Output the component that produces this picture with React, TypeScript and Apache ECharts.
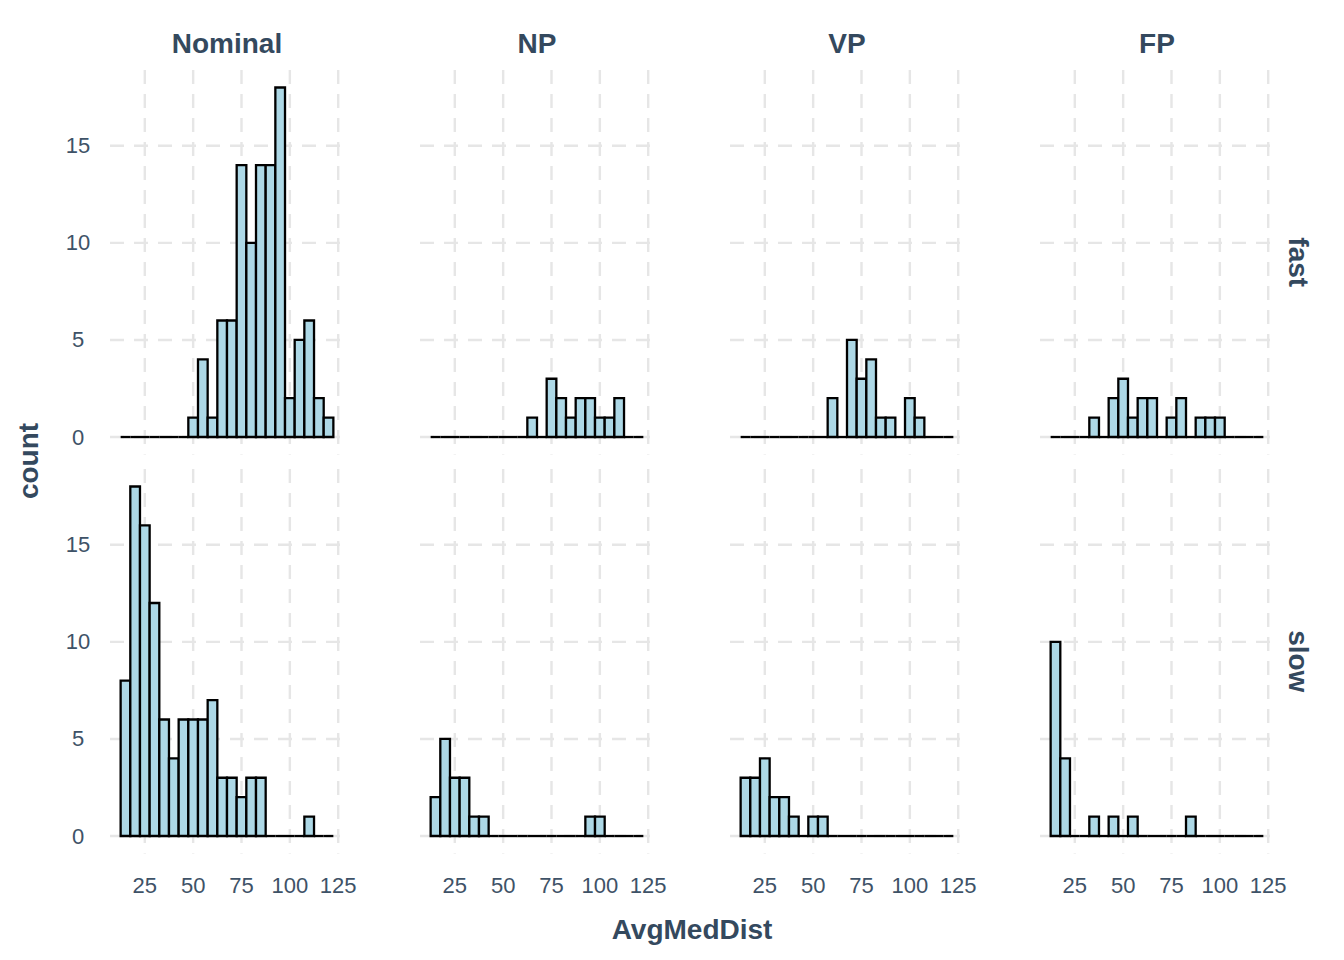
import React, { useEffect, useRef } from "react";
import * as echarts from "echarts";

// ---- data ----
const columns = ["Nominal", "NP", "VP", "FP"];
const rows = ["fast", "slow"];
const binCenters = [15, 20, 25, 30, 35, 40, 45, 50, 55, 60, 65, 70, 75, 80, 85, 90, 95, 100, 105, 110, 115, 120];
const binWidth = 5;
const xTicks = [25, 50, 75, 100, 125];
const yTicks = [0, 5, 10, 15];

const nominalFast = [0, 0, 0, 0, 0, 0, 0, 1, 4, 1, 6, 6, 14, 10, 14, 14, 18, 2, 5, 6, 2, 1];
const npFast = [0, 0, 0, 0, 0, 0, 0, 0, 0, 0, 1, 0, 3, 2, 1, 2, 2, 1, 1, 2, 0, 0];
const vpFast = [0, 0, 0, 0, 0, 0, 0, 0, 0, 2, 0, 5, 3, 4, 1, 1, 0, 2, 1, 0, 0, 0];
const fpFast = [0, 0, 0, 0, 1, 0, 2, 3, 1, 2, 2, 0, 1, 2, 0, 1, 1, 1, 0, 0, 0, 0];

const nominalSlow = [8, 18, 16, 12, 6, 4, 6, 6, 6, 7, 3, 3, 2, 3, 3, 0, 0, 0, 0, 1, 0, 0];
const npSlow = [2, 5, 3, 3, 1, 1, 0, 0, 0, 0, 0, 0, 0, 0, 0, 0, 1, 1, 0, 0, 0, 0];
const vpSlow = [3, 3, 4, 2, 2, 1, 0, 1, 1, 0, 0, 0, 0, 0, 0, 0, 0, 0, 0, 0, 0, 0];
const fpSlow = [10, 4, 0, 0, 1, 0, 1, 0, 1, 0, 0, 0, 0, 0, 1, 0, 0, 0, 0, 0, 0, 0];

const panelCounts = [
  [nominalFast, npFast, vpFast, fpFast],
  [nominalSlow, npSlow, vpSlow, fpSlow],
];

const xMin = 7;
const xMax = 128;
const yMin = -0.9;
const yMax = 18.9;

// ---- layout / style ----
const colLefts = [110, 420, 730, 1040];
const panelWidth = 234;
const rowTops = [70, 469];
const panelHeight = 384.5;
const FONT = "'Liberation Sans', Arial, Helvetica, sans-serif";
const TITLE_COLOR = "#34495E";
const TICK_COLOR = "#3E5267";
const GRID_COLOR = "#E6E6E6";
const GRID_DASH = [14, 10];

export default function App() {
  const ref = useRef<HTMLDivElement>(null);

  useEffect(() => {
    document.body.style.margin = "0";
    if (!ref.current) return;
    const chart = echarts.init(ref.current, undefined, { renderer: "svg" });

    const grid: any[] = [];
    const xAxis: any[] = [];
    const yAxis: any[] = [];
    const series: any[] = [];

    rows.forEach((_r, ri) => {
      columns.forEach((_c, ci) => {
        const idx = ri * columns.length + ci;
        grid.push({
          left: colLefts[ci],
          top: rowTops[ri],
          width: panelWidth,
          height: panelHeight,
          containLabel: false,
        });
        xAxis.push({
          type: "value",
          gridIndex: idx,
          min: xMin,
          max: xMax,
          axisLine: { show: false },
          axisTick: { show: false },
          splitLine: { show: false },
          axisLabel: {
            show: ri === rows.length - 1,
            customValues: xTicks,
            fontSize: 22,
            fontFamily: FONT,
            color: TICK_COLOR,
            margin: 21,
          },
        });
        yAxis.push({
          type: "value",
          gridIndex: idx,
          min: yMin,
          max: yMax,
          axisLine: { show: false },
          axisTick: { show: false },
          splitLine: { show: false },
          axisLabel: {
            show: ci === 0,
            customValues: yTicks,
            fontSize: 22,
            fontFamily: FONT,
            color: TICK_COLOR,
            align: "center",
            margin: 32,
          },
        });

        // vertical grid lines
        series.push({
          type: "custom",
          xAxisIndex: idx,
          yAxisIndex: idx,
          silent: true,
          z: 1,
          data: xTicks.map((v) => [v, 0]),
          renderItem: (params: any, api: any) => {
            const cs = params.coordSys;
            const x = api.coord([api.value(0), 0])[0];
            return {
              type: "line",
              shape: { x1: x, y1: cs.y, x2: x, y2: cs.y + cs.height },
              style: { stroke: GRID_COLOR, lineWidth: 2.4, lineDash: GRID_DASH },
            };
          },
        });
        // horizontal grid lines
        series.push({
          type: "custom",
          xAxisIndex: idx,
          yAxisIndex: idx,
          silent: true,
          z: 1,
          data: yTicks.map((v) => [xMin, v]),
          renderItem: (params: any, api: any) => {
            const cs = params.coordSys;
            const y = api.coord([xMin, api.value(1)])[1];
            return {
              type: "line",
              shape: { x1: cs.x, y1: y, x2: cs.x + cs.width, y2: y },
              style: { stroke: GRID_COLOR, lineWidth: 2.4, lineDash: GRID_DASH },
            };
          },
        });
        // histogram bars
        const counts = panelCounts[ri][ci];
        series.push({
          type: "custom",
          name: `${columns[ci]}-${rows[ri]}`,
          xAxisIndex: idx,
          yAxisIndex: idx,
          z: 2,
          data: binCenters.map((c, k) => [c, counts[k]]),
          renderItem: (_params: any, api: any) => {
            const c = api.value(0);
            const n = api.value(1);
            const p0 = api.coord([c - binWidth / 2, 0]);
            const p1 = api.coord([c + binWidth / 2, n]);
            if (n > 0) {
              return {
                type: "rect",
                shape: { x: p0[0], y: p1[1], width: p1[0] - p0[0], height: p0[1] - p1[1] },
                style: { fill: "#ADD8E6", stroke: "#000000", lineWidth: 2.3 },
              };
            }
            return {
              type: "line",
              shape: { x1: p0[0], y1: p0[1], x2: p1[0], y2: p0[1] },
              style: { stroke: "#000000", lineWidth: 2.3 },
            };
          },
        });
      });
    });

    const graphic: any[] = [];
    columns.forEach((name, ci) => {
      graphic.push({
        type: "text",
        x: colLefts[ci] + panelWidth / 2,
        y: 43,
        style: {
          text: name,
          fontSize: 28,
          fontWeight: "bold",
          fontFamily: FONT,
          fill: TITLE_COLOR,
          align: "center",
          verticalAlign: "middle",
        },
      });
    });
    rows.forEach((name, ri) => {
      graphic.push({
        type: "text",
        x: 1298,
        y: rowTops[ri] + panelHeight / 2,
        rotation: -Math.PI / 2,
        style: {
          text: name,
          fontSize: 28,
          fontWeight: "bold",
          fontFamily: FONT,
          fill: TITLE_COLOR,
          align: "center",
          verticalAlign: "middle",
        },
      });
    });
    graphic.push({
      type: "text",
      x: 28,
      y: 461,
      rotation: Math.PI / 2,
      style: {
        text: "count",
        fontSize: 28,
        fontWeight: "bold",
        fontFamily: FONT,
        fill: TITLE_COLOR,
        align: "center",
        verticalAlign: "middle",
      },
    });
    graphic.push({
      type: "text",
      x: 692,
      y: 929,
      style: {
        text: "AvgMedDist",
        fontSize: 28,
        fontWeight: "bold",
        fontFamily: FONT,
        fill: TITLE_COLOR,
        align: "center",
        verticalAlign: "middle",
      },
    });

    chart.setOption({
      animation: false,
      backgroundColor: "#FFFFFF",
      grid,
      xAxis,
      yAxis,
      series,
      graphic,
    });

    return () => {
      chart.dispose();
    };
  }, []);

  return (
    <div
      ref={ref}
      style={{ width: 1344, height: 960, position: "absolute", left: 0, top: 0 }}
    />
  );
}
